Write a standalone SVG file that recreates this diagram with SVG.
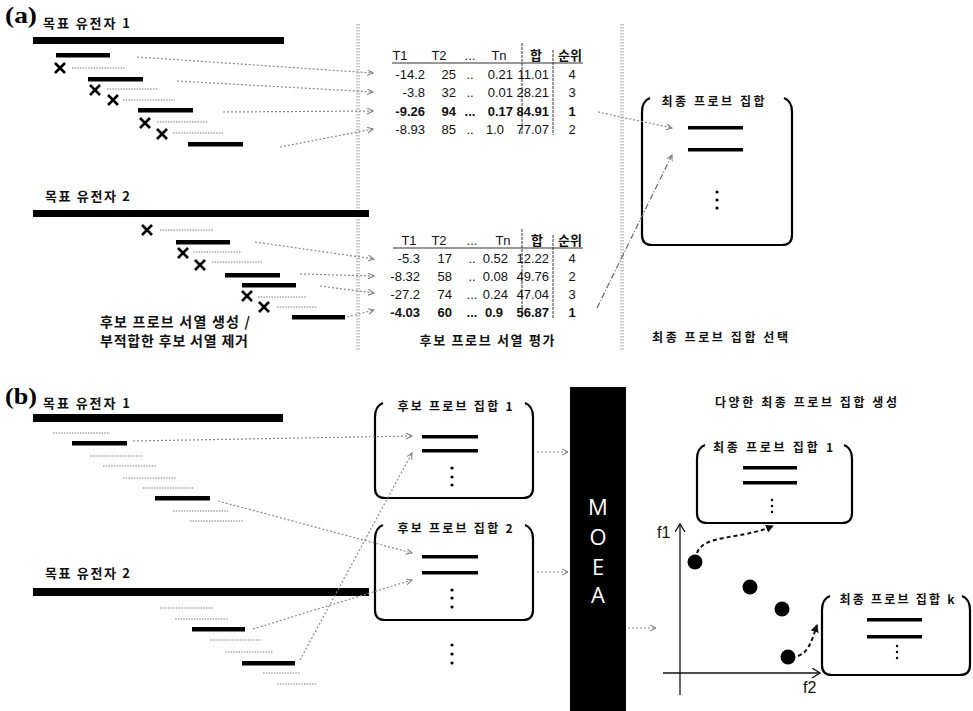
<svg xmlns="http://www.w3.org/2000/svg" width="973" height="711" viewBox="0 0 973 711">
<style>
.k{font-family:"Noto Sans CJK KR","Noto Sans",sans-serif;font-weight:700;fill:#111}
.lab{font-family:"Liberation Serif",serif;font-weight:700;font-size:23px;fill:#000}
.num{font-family:"Liberation Sans",Arial,sans-serif;font-size:13px;fill:#111}
.b{font-weight:700}
.bar{fill:#000}
.seq{stroke:#a8a8a8;stroke-width:1.5;stroke-dasharray:1.5 1.2;fill:none}
.box{fill:none;stroke:#000;stroke-width:2.2}
.band{stroke:#c9c9c9;stroke-width:4;stroke-dasharray:1.5 1.5;fill:none}
.conn{stroke:#8a8a8a;stroke-width:1.2;stroke-dasharray:2 2;fill:none;marker-end:url(#oa)}
.dd{stroke:#666;stroke-width:1.2;stroke-dasharray:6 2 1 2;fill:none;marker-end:url(#oa)}
.vl{stroke:#333;stroke-width:1;stroke-dasharray:3 1}
.ul{stroke:#333;stroke-width:1.2}
.cur{stroke:#111;stroke-width:2;stroke-dasharray:4 3;fill:none;marker-end:url(#fa)}
.axis{stroke:#111;stroke-width:1.3;fill:none;marker-end:url(#ax)}
.dot{fill:#000}
</style>
<defs>
<marker id="oa" markerWidth="8" markerHeight="8" refX="6" refY="3" orient="auto" markerUnits="userSpaceOnUse"><path d="M0,0 L6,3 L0,6" fill="none" stroke="#777" stroke-width="1"/></marker>
<marker id="ax" markerWidth="12" markerHeight="12" refX="8" refY="5" orient="auto" markerUnits="userSpaceOnUse"><path d="M0,0 L8,5 L0,10" fill="none" stroke="#111" stroke-width="1.3"/></marker>
<marker id="fa" markerWidth="10" markerHeight="10" refX="7" refY="4" orient="auto" markerUnits="userSpaceOnUse"><path d="M0,0 L8,4 L0,8 Z" fill="#111"/></marker>
<path id="xm" d="M-5,-5 L5,5 M5,-5 L-5,5" stroke="#000" stroke-width="2.6" fill="none"/>
</defs>

<!-- separators -->
<g id="bands">
<path class="band" d="M358,24 L358,350"/>
<path class="band" d="M622,24 L622,350"/>
</g>

<!-- part (a) gene 1 -->
<g id="a-gene1">
<text class="lab" x="5" y="23" textLength="32" lengthAdjust="spacingAndGlyphs">(a)</text>
<text class="k" x="43" y="28" font-size="13" textLength="87" lengthAdjust="spacing">목표 유전자 1</text>
<rect class="bar" x="33" y="37" width="251" height="7"/>
<rect class="bar" x="56" y="53" width="54" height="4.5"/>
<rect class="bar" x="88" y="77" width="55" height="4.5"/>
<rect class="bar" x="138" y="108" width="55" height="4.5"/>
<rect class="bar" x="188" y="142" width="55" height="4.5"/>
<use href="#xm" x="60" y="68"/>
<use href="#xm" x="95" y="90"/>
<use href="#xm" x="113" y="100"/>
<use href="#xm" x="145" y="123"/>
<use href="#xm" x="162" y="134"/>
<path class="seq" d="M72,68 H125 M107,89 H158 M123,100 H175 M157,122 H208 M173,133 H223"/>
</g>

<!-- part (a) gene 2 -->
<g id="a-gene2">
<text class="k" x="45" y="201" font-size="13" textLength="85" lengthAdjust="spacing">목표 유전자 2</text>
<rect class="bar" x="33" y="210" width="336" height="7"/>
<rect class="bar" x="176" y="240" width="54" height="4.5"/>
<rect class="bar" x="225" y="273" width="55" height="4.5"/>
<rect class="bar" x="242" y="283" width="54" height="4.5"/>
<rect class="bar" x="292" y="315" width="53" height="4.5"/>
<use href="#xm" x="147" y="230"/>
<use href="#xm" x="183" y="253"/>
<use href="#xm" x="200" y="265"/>
<use href="#xm" x="247" y="296"/>
<use href="#xm" x="264" y="307"/>
<path class="seq" d="M160,230 H213 M193,252 H242 M212,262 H263 M258,297 H307 M277,307 H317"/>
<text class="k" x="100" y="327" font-size="14" textLength="150" lengthAdjust="spacing">후보 프로브 서열 생성 /</text>
<text class="k" x="100" y="346" font-size="14" textLength="148" lengthAdjust="spacing">부적합한 후보 서열 제거</text>
</g>

<!-- table 1 -->
<g id="table1" class="num">
<text x="400" y="60" text-anchor="middle">T1</text>
<text x="439" y="60" text-anchor="middle">T2</text>
<text x="470" y="60" text-anchor="middle">...</text>
<text x="499" y="60" text-anchor="middle">Tn</text>
<text class="k" x="536" y="60" font-size="13" text-anchor="middle">합</text>
<text class="k" x="570" y="60" font-size="13" text-anchor="middle">순위</text>
<line class="ul" x1="392" y1="63" x2="583" y2="63"/>
<line class="vl" x1="522" y1="43" x2="522" y2="135"/>
<line class="vl" x1="553" y1="50" x2="553" y2="135"/>
<g text-anchor="end">
<text x="425" y="79">-14.2</text><text x="456" y="79">25</text><text x="513" y="79">0.21</text><text x="549" y="79">11.01</text>
<text x="425" y="97">-3.8</text><text x="456" y="97">32</text><text x="513" y="97">0.01</text><text x="549" y="97">28.21</text>
<text class="b" x="425" y="116">-9.26</text><text class="b" x="456" y="116">94</text><text class="b" x="513" y="116">0.17</text><text class="b" x="549" y="116">84.91</text>
<text x="425" y="134">-8.93</text><text x="456" y="134">85</text><text x="504" y="134">1.0</text><text x="549" y="134">77.07</text>
</g>
<g text-anchor="middle">
<text x="470" y="79">..</text><text x="572" y="79">4</text>
<text x="470" y="97">..</text><text x="572" y="97">3</text>
<text class="b" x="470" y="116">...</text><text class="b" x="572" y="116">1</text>
<text x="470" y="134">..</text><text x="572" y="134">2</text>
</g>
</g>

<!-- table 2 -->
<g id="table2" class="num">
<text x="409" y="245" text-anchor="middle">T1</text>
<text x="439" y="245" text-anchor="middle">T2</text>
<text x="472" y="245" text-anchor="middle">...</text>
<text x="503" y="245" text-anchor="middle">Tn</text>
<text class="k" x="537" y="245" font-size="13" text-anchor="middle">합</text>
<text class="k" x="570" y="245" font-size="13" text-anchor="middle">순위</text>
<line class="ul" x1="393" y1="248" x2="583" y2="248"/>
<line class="vl" x1="522" y1="229" x2="522" y2="318"/>
<line class="vl" x1="553" y1="235" x2="553" y2="318"/>
<g text-anchor="end">
<text x="420" y="263">-5.3</text><text x="452" y="263">17</text><text x="508" y="263">0.52</text><text x="549" y="263">12.22</text>
<text x="420" y="281">-8.32</text><text x="452" y="281">58</text><text x="508" y="281">0.08</text><text x="549" y="281">49.76</text>
<text x="420" y="299">-27.2</text><text x="452" y="299">74</text><text x="508" y="299">0.24</text><text x="549" y="299">47.04</text>
<text class="b" x="420" y="317">-4.03</text><text class="b" x="452" y="317">60</text><text class="b" x="503" y="317">0.9</text><text class="b" x="549" y="317">56.87</text>
</g>
<g text-anchor="middle">
<text x="472" y="263">..</text><text x="572" y="263">4</text>
<text x="472" y="281">..</text><text x="572" y="281">2</text>
<text x="472" y="299">...</text><text x="572" y="299">3</text>
<text class="b" x="472" y="317">...</text><text class="b" x="572" y="317">1</text>
</g>
<text class="k" x="487" y="345" font-size="13" text-anchor="middle" textLength="135" lengthAdjust="spacing">후보 프로브 서열 평가</text>
</g>

<!-- final probe set (a) -->
<g id="a-final">
<path class="box" d="M650,98 Q642,101 642,112 L642,235 Q642,245 652,245 L782,245 Q792,245 792,235 L792,112 Q792,101 784,98"/>
<text class="k" x="713" y="106" font-size="12" text-anchor="middle" textLength="103" lengthAdjust="spacing">최종 프로브 집합</text>
<rect class="bar" x="688" y="126" width="55" height="3.5"/>
<rect class="bar" x="688" y="148" width="55" height="3.5"/>
<circle class="dot" cx="717" cy="192" r="1.6"/>
<circle class="dot" cx="717" cy="200" r="1.6"/>
<circle class="dot" cx="717" cy="208" r="1.6"/>
<text class="k" x="720" y="342" font-size="12" text-anchor="middle" textLength="136" lengthAdjust="spacing">최종 프로브 집합 선택</text>
</g>

<!-- part (b) genes -->
<g id="b-gene1">
<text class="lab" x="5" y="404" textLength="32" lengthAdjust="spacingAndGlyphs">(b)</text>
<text class="k" x="43" y="408" font-size="13" textLength="87" lengthAdjust="spacing">목표 유전자 1</text>
<rect class="bar" x="33" y="414" width="250" height="8"/>
<rect class="bar" x="72" y="441" width="55" height="4.5"/>
<rect class="bar" x="155" y="496" width="55" height="4.5"/>
<path class="seq" d="M53,433 H110 M90,456 H143 M103,466 H157 M123,478 H177 M143,488 H193 M173,511 H228 M190,521 H243"/>
</g>
<g id="b-gene2">
<text class="k" x="45" y="578" font-size="13" textLength="85" lengthAdjust="spacing">목표 유전자 2</text>
<rect class="bar" x="33" y="588" width="336" height="8"/>
<rect class="bar" x="192" y="627" width="53" height="4.5"/>
<rect class="bar" x="242" y="661" width="53" height="4.5"/>
<path class="seq" d="M160,608 H213 M175,619 H228 M210,640 H262 M225,652 H273 M263,673 H300 M277,684 H317"/>
</g>

<!-- candidate sets -->
<g id="cand1">
<path class="box" d="M383,403 Q375,406 375,417 L375,488 Q375,498 385,498 L523,498 Q533,498 533,488 L533,417 Q533,406 525,403"/>
<text class="k" x="455" y="411" font-size="12" text-anchor="middle" textLength="115" lengthAdjust="spacing">후보 프로브 집합 1</text>
<rect class="bar" x="422" y="435" width="56" height="3.5"/>
<rect class="bar" x="422" y="449" width="56" height="3.5"/>
<circle class="dot" cx="452" cy="468" r="1.6"/>
<circle class="dot" cx="452" cy="477" r="1.6"/>
<circle class="dot" cx="452" cy="485" r="1.6"/>
</g>
<g id="cand2">
<path class="box" d="M383,525 Q375,528 375,539 L375,610 Q375,620 385,620 L523,620 Q533,620 533,610 L533,539 Q533,528 525,525"/>
<text class="k" x="455" y="533" font-size="12" text-anchor="middle" textLength="115" lengthAdjust="spacing">후보 프로브 집합 2</text>
<rect class="bar" x="422" y="555" width="56" height="3.5"/>
<rect class="bar" x="422" y="571" width="56" height="3.5"/>
<circle class="dot" cx="452" cy="590" r="1.6"/>
<circle class="dot" cx="452" cy="598" r="1.6"/>
<circle class="dot" cx="452" cy="607" r="1.6"/>
</g>
<g id="cand-more">
<circle class="dot" cx="452" cy="645" r="1.6"/>
<circle class="dot" cx="452" cy="654" r="1.6"/>
<circle class="dot" cx="452" cy="663" r="1.6"/>
</g>

<!-- MOEA -->
<g id="moea">
<rect x="570" y="387" width="56" height="324" fill="#000"/>
<g font-family="'Open Sans','Liberation Sans',sans-serif" font-size="22" fill="#fff" text-anchor="middle">
<text x="598" y="515">M</text>
<text x="598" y="545">O</text>
<text x="598" y="575">E</text>
<text x="598" y="603">A</text>
</g>
</g>

<!-- right side -->
<g id="title-b">
<text class="k" x="806" y="407" font-size="12" text-anchor="middle" textLength="182" lengthAdjust="spacing">다양한 최종 프로브 집합 생성</text>
</g>
<g id="final1">
<path class="box" d="M705,445 Q697,448 697,459 L697,513 Q697,523 707,523 L842,523 Q852,523 852,513 L852,459 Q852,448 844,445"/>
<text class="k" x="773" y="452" font-size="12" text-anchor="middle" textLength="120" lengthAdjust="spacing">최종 프로브 집합 1</text>
<rect class="bar" x="743" y="466" width="54" height="3.5"/>
<rect class="bar" x="743" y="481" width="54" height="3.5"/>
<circle class="dot" cx="772" cy="500" r="1.2"/>
<circle class="dot" cx="772" cy="506" r="1.2"/>
<circle class="dot" cx="772" cy="512" r="1.2"/>
</g>
<g id="finalk">
<path class="box" d="M830,596 Q822,599 822,610 L822,665 Q822,675 832,675 L960,675 Q970,675 970,665 L970,610 Q970,599 962,596"/>
<text class="k" x="897" y="604" font-size="12" text-anchor="middle" textLength="115" lengthAdjust="spacing">최종 프로브 집합 k</text>
<rect class="bar" x="867" y="618" width="55" height="3.5"/>
<rect class="bar" x="867" y="635" width="55" height="3.5"/>
<circle class="dot" cx="897" cy="646" r="1.2"/>
<circle class="dot" cx="897" cy="652" r="1.2"/>
<circle class="dot" cx="897" cy="658" r="1.2"/>
</g>
<g id="plot">
<path class="axis" d="M680,695 L680,524"/>
<path class="axis" d="M663,673 L820,673"/>
<text x="657" y="538" font-family="'Liberation Sans',sans-serif" font-size="16" fill="#111">f1</text>
<text x="803" y="693" font-family="'Liberation Sans',sans-serif" font-size="16" fill="#111">f2</text>
<circle class="dot" cx="695" cy="562" r="7.5"/>
<circle class="dot" cx="750" cy="587" r="7.5"/>
<circle class="dot" cx="782" cy="609" r="7.5"/>
<circle class="dot" cx="788" cy="657" r="7.5"/>
</g>

<!-- connectors -->
<g id="connectors">
<path class="conn" d="M137,57 L373,73"/>
<path class="conn" d="M177,81 L373,92"/>
<path class="conn" d="M223,112 L373,111"/>
<path class="conn" d="M280,147 L373,129"/>
<path class="conn" d="M255,242 L374,259"/>
<path class="conn" d="M300,274 L374,276"/>
<path class="conn" d="M320,286 L374,293"/>
<path class="conn" d="M347,317 L374,310"/>
<path class="conn" d="M598,112 L672,128"/>
<path class="dd" d="M597,308 L672,155"/>
<path class="conn" d="M133,441 L412,436"/>
<path class="conn" d="M218,501 L412,553"/>
<path class="conn" d="M253,629 L412,580"/>
<path class="conn" d="M300,660 L412,453"/>
<path class="conn" d="M537,452 L568,452"/>
<path class="conn" d="M537,572 L568,572"/>
<path class="conn" d="M628,628 L656,628"/>
<path class="cur" d="M697,553 C704,534 740,540 773,526"/>
<path class="cur" d="M798,656 C809,652 812,640 817,625"/>
</g>
</svg>
